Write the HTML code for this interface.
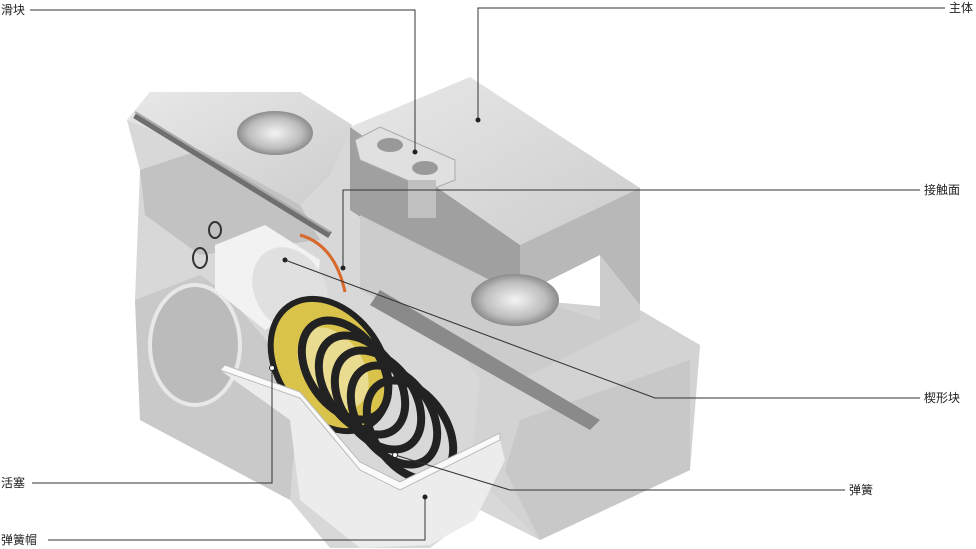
<!DOCTYPE html>
<html><head><meta charset="utf-8"><style>
html,body{margin:0;padding:0;background:#fff}
body{width:976px;height:549px;position:relative;overflow:hidden;font-family:"Liberation Sans","Noto Sans CJK SC",sans-serif}
.l{position:absolute;font-size:12px;color:#222;line-height:14px}
</style></head><body>
<svg width="976" height="549" style="position:absolute;left:0;top:0">
<defs>
<linearGradient id="g1" x1="0" y1="0" x2="1" y2="1"><stop offset="0" stop-color="#e8e8e8"/><stop offset="1" stop-color="#cdcdcd"/></linearGradient>
<radialGradient id="hole"><stop offset="0" stop-color="#f4f4f4"/><stop offset="0.7" stop-color="#bdbdbd"/><stop offset="1" stop-color="#8c8c8c"/></radialGradient>
</defs>
<polygon points="127,120 150,92 300,92 352,125 352,180 470,290 640,320 700,345 690,470 540,540 480,510 430,548 330,548 290,500 140,420 135,300 140,170" fill="#d8d8d8"/>
<polygon points="127,120 150,92 300,92 352,125 330,175 300,205 200,150" fill="url(#g1)"/>
<polygon points="140,170 200,150 300,205 320,240 200,255 145,215" fill="#c2c2c2"/>
<ellipse cx="275" cy="133" rx="38" ry="22" fill="url(#hole)"/>
<line x1="135" y1="115" x2="330" y2="235" stroke="#6f6f6f" stroke-width="7"/>
<line x1="135" y1="112" x2="330" y2="232" stroke="#aaa" stroke-width="2"/>
<polygon points="420,290 640,310 700,345 690,470 540,540 470,470 480,380" fill="#d3d3d3"/>
<polygon points="520,420 690,360 690,470 540,540 505,470" fill="#c8c8c8"/>
<polygon points="350,127 470,77 640,188 520,245" fill="url(#g1)"/>
<polygon points="520,245 640,188 640,305 600,320 600,255 520,295" fill="#b8b8b8"/>
<polygon points="350,127 520,245 520,295 470,290 350,210" fill="#a0a0a0"/>
<polygon points="360,215 520,295 600,320 600,255 640,305 640,320 520,380 360,290" fill="#cccccc"/>
<ellipse cx="515" cy="300" rx="44" ry="26" fill="url(#hole)"/>
<polygon points="380,290 600,420 590,430 370,305" fill="#8a8a8a"/>
<polygon points="355,140 380,127 455,160 455,180 430,190 360,160" fill="#e0e0e0" stroke="#aaa"/>
<ellipse cx="390" cy="145" rx="13" ry="7" fill="#999"/>
<ellipse cx="425" cy="168" rx="13" ry="7" fill="#999"/>
<rect x="408" y="180" width="28" height="38" fill="#c0c0c0"/>
<path d="M300,235 Q335,245 345,292" stroke="#d8692a" stroke-width="3" fill="none"/>
<polygon points="135,300 200,275 225,292 300,380 290,500 140,420" fill="#c9c9c9"/>
<ellipse cx="195" cy="345" rx="45" ry="60" fill="#bbbbbb" stroke="#e8e8e8" stroke-width="4"/>
<ellipse cx="200" cy="258" rx="7" ry="10" fill="none" stroke="#333" stroke-width="2"/>
<ellipse cx="215" cy="230" rx="6" ry="8" fill="none" stroke="#333" stroke-width="2"/>
<polygon points="215,245 265,225 320,260 315,300 265,330 215,290" fill="#f2f2f2"/>
<ellipse cx="290" cy="290" rx="35" ry="45" fill="#e0e0e0" transform="rotate(-30 290 290)"/>
<ellipse cx="330" cy="365" rx="52" ry="72" fill="#d9c34a" stroke="#222" stroke-width="6" transform="rotate(-35 330 365)"/>
<ellipse cx="333" cy="368" rx="30" ry="45" fill="#e9dc90" transform="rotate(-35 333 368)"/>
<g fill="none" stroke="#222" stroke-width="8">
<ellipse cx="345" cy="370" rx="36" ry="55" transform="rotate(-35 345 370)"/>
<ellipse cx="362" cy="385" rx="36" ry="55" transform="rotate(-35 362 385)"/>
<ellipse cx="378" cy="400" rx="36" ry="55" transform="rotate(-35 378 400)"/>
<ellipse cx="394" cy="415" rx="36" ry="55" transform="rotate(-35 394 415)"/>
<ellipse cx="410" cy="430" rx="36" ry="55" transform="rotate(-35 410 430)"/>
</g>
<polygon points="220,370 300,398 310,410 360,470 400,490 500,440 505,460 475,520 430,545 360,548 300,500 290,420" fill="#ececec"/>
<polygon points="220,370 300,398 360,470 400,490 500,440 500,433 400,482 360,462 300,392 225,365" fill="#fafafa" stroke="#bbb" stroke-width="1"/>
<g stroke="#333" stroke-width="1" fill="none">
<polyline points="30,10 415,10 415,152"/>
<polyline points="478,120 478,8 945,8"/>
<polyline points="343,270 343,190 920,190"/>
<polyline points="285,260 655,398 920,398"/>
<polyline points="395,455 510,490 845,490"/>
<polyline points="32,483 272,483 272,368"/>
<polyline points="48,540 425,540 425,497"/>
</g>
<g fill="#222"><circle cx="415" cy="152" r="2.5"/><circle cx="478" cy="120" r="2.5"/><circle cx="343" cy="268" r="2.5"/><circle cx="285" cy="260" r="2.5"/><circle cx="425" cy="497" r="2.5"/></g>
<g fill="#fff" stroke="#222"><circle cx="395" cy="455" r="2.5"/><circle cx="272" cy="368" r="2.5"/></g>
</svg>
<div class="l" style="left:1px;top:3px">滑块</div>
<div class="l" style="left:949px;top:1px">主体</div>
<div class="l" style="left:924px;top:183px">接触面</div>
<div class="l" style="left:924px;top:391px">楔形块</div>
<div class="l" style="left:849px;top:483px">弹簧</div>
<div class="l" style="left:1px;top:476px">活塞</div>
<div class="l" style="left:1px;top:533px">弹簧帽</div>
</body></html>
